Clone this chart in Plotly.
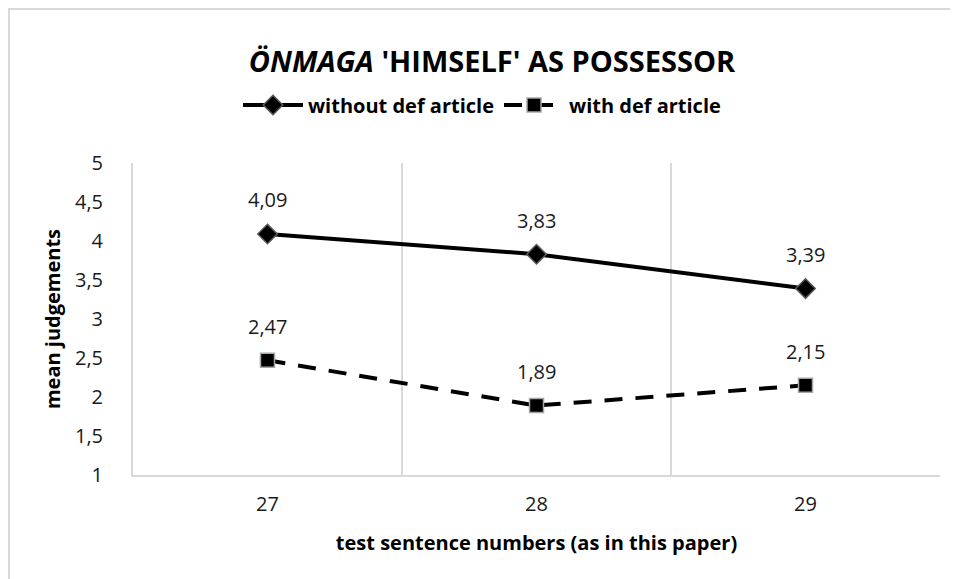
"""
Mean judgements for test sentences 27-29 (önmaga 'himself' as possessor)
"""

import plotly.graph_objects as go

# chart data
sentences = ["27", "28", "29"]
without_def = [4.09, 3.83, 3.39]
with_def = [2.47, 1.89, 2.15]

FONT = "Open Sans, Lato, sans-serif"

# the page has an 8px body margin, so the figure is drawn a bit smaller
W, H = 950, 571
L, R, T, B = 125, 18, 155, 104
PW, PH = W - L - R, H - T - B


def fmt(v):
    return f"{v:.2f}".replace(".", ",")


def build():
    fig = go.Figure()
    fig.add_trace(go.Scatter(
        x=sentences, y=without_def, name="without def article",
        mode="lines+markers",
        line=dict(color="black", width=4),
        marker=dict(symbol="diamond", size=15, color="black",
                    line=dict(color="#595959", width=1.5)),
    ))
    fig.add_trace(go.Scatter(
        x=sentences, y=with_def, name="with def article",
        mode="lines+markers",
        line=dict(color="black", width=4, dash="18px,13px"),
        marker=dict(symbol="square", size=14, color="black",
                    line=dict(color="#a6a6a6", width=1.5)),
    ))

    # data labels above each point (category index as x)
    for series in (without_def, with_def):
        for i, v in enumerate(series):
            fig.add_annotation(x=i, y=v, text=fmt(v), showarrow=False,
                               yshift=34, font=dict(size=20, color="#1a1a1a"))

    # light frame around the whole chart
    fig.add_shape(type="rect", xref="paper", yref="paper",
                  x0=(1 - L) / PW, x1=(W - L + 5) / PW,
                  y0=-(B + 5) / PH, y1=1 + (T - 1) / PH,
                  line=dict(color="#d9d9d9", width=2), layer="below")

    fig.update_layout(
        width=W, height=H,
        margin=dict(l=L, r=R, t=T, b=B),
        paper_bgcolor="white", plot_bgcolor="white",
        separators=", ",
        font=dict(family=FONT, color="black"),
        title=dict(text="<i>ÖNMAGA</i> 'HIMSELF' AS POSSESSOR",
                   x=(492 - 8) / W, xanchor="center", y=1 - 54 / H, yanchor="middle",
                   font=dict(size=29, family=FONT, weight="bold", color="black")),
        legend=dict(orientation="h", x=(482 - 8 - L) / PW, xanchor="center",
                    y=1 + 58 / PH, yanchor="middle",
                    font=dict(size=20, weight="bold"), itemwidth=60,
                    bgcolor="rgba(0,0,0,0)"),
        showlegend=True,
    )
    fig.update_xaxes(
        type="category", tickson="boundaries", range=[-0.5, 2.5],
        showgrid=True, gridcolor="#d9d9d9", gridwidth=2,
        showline=True, linecolor="#d9d9d9", linewidth=2,
        ticks="", tickfont=dict(size=20, color="#1a1a1a"),
        ticklabelstandoff=10,
        title=dict(text="test sentence numbers (as in this paper)",
                   font=dict(size=20, weight="bold"), standoff=20),
        zeroline=False,
    )
    fig.update_yaxes(
        range=[1, 5], dtick=0.5, showgrid=False, zeroline=False,
        showline=True, linecolor="#d9d9d9", linewidth=2,
        ticks="", tickfont=dict(size=20, color="#1a1a1a"),
        ticklabelstandoff=24,
        title=dict(text="mean judgements",
                   font=dict(size=20, weight="bold"), standoff=9),
    )
    fig.write_html("out.html")


if __name__ == "__main__":
    build()
